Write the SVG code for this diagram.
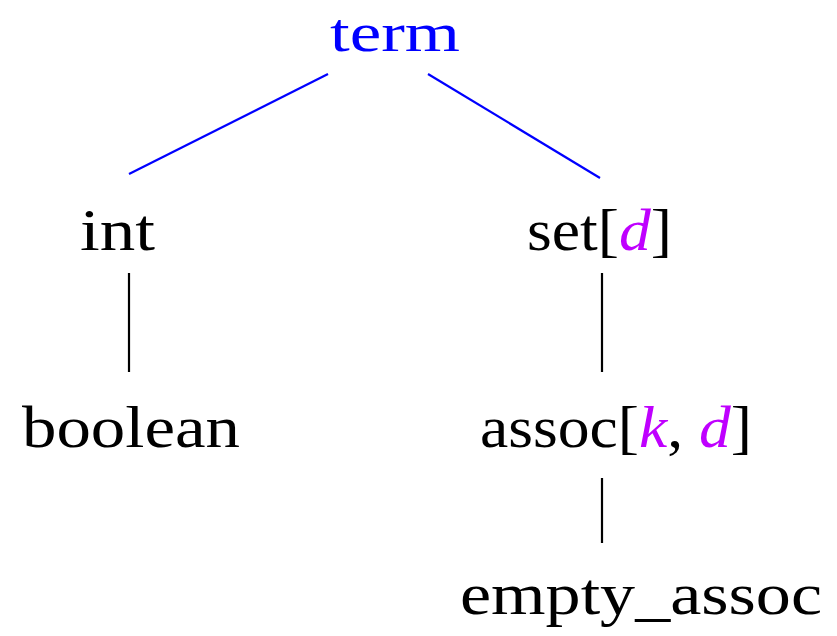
<svg xmlns="http://www.w3.org/2000/svg" width="837" height="636" viewBox="0 0 837 636">
<style>
text{font-family:"Liberation Serif","DejaVu Serif",serif;font-size:60px;fill:#000}
.blue{fill:#0000ff}
.var{fill:#bf00ff;font-style:italic}
.e{stroke:#000;stroke-width:2.2;fill:none}
.eb{stroke:#0000ff;stroke-width:2.2;fill:none}
</style>
<rect width="837" height="636" fill="#fff"/>
<g id="connectors">
<line class="eb" x1="328" y1="74" x2="129" y2="174"/>
<line class="eb" x1="428" y1="74" x2="600" y2="178"/>
<line class="e" x1="129" y1="273" x2="129" y2="372"/>
<line class="e" x1="602" y1="273" x2="602" y2="372"/>
<line class="e" x1="602" y1="478" x2="602" y2="543"/>
</g>
<g id="term"><text class="blue" x="330" y="51" style="font-size:54px" textLength="130" lengthAdjust="spacingAndGlyphs">term</text></g>
<g id="int"><text x="80" y="250" textLength="75" lengthAdjust="spacingAndGlyphs">int</text></g>
<g id="set"><text x="527" y="250" textLength="145" lengthAdjust="spacingAndGlyphs">set[<tspan class="var">d</tspan>]</text></g>
<g id="boolean"><text x="22" y="447" textLength="218" lengthAdjust="spacingAndGlyphs">boolean</text></g>
<g id="assoc"><text x="480" y="447" textLength="272" lengthAdjust="spacingAndGlyphs">assoc[<tspan class="var">k</tspan>, <tspan class="var">d</tspan>]</text></g>
<g id="empty_assoc"><text x="460" y="614" textLength="362" lengthAdjust="spacingAndGlyphs">empty_assoc</text></g>
</svg>
